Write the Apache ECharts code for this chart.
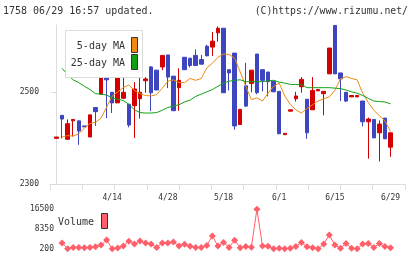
<!DOCTYPE html>
<html>
<head>
<meta charset="utf-8">
<script src="https://cdn.jsdelivr.net/npm/echarts@6/dist/echarts.min.js"></script>
<style>
html, body { margin: 0; padding: 0; background: #fff; }
#chart { width: 420px; height: 259px; }
</style>
</head>
<body>
<div id="chart"></div>
<script>
// trading days, 3/31 .. 6/29
const dates = ['3/31', '4/1', '4/2', '4/3', '4/6', '4/7', '4/8', '4/9', '4/10', '4/13',
  '4/14', '4/15', '4/16', '4/17', '4/20', '4/21', '4/22', '4/23', '4/24', '4/27',
  '4/28', '4/30', '5/1', '5/7', '5/8', '5/11', '5/12', '5/13', '5/14', '5/15',
  '5/18', '5/19', '5/20', '5/21', '5/22', '5/25', '5/26', '5/27', '5/28', '5/29',
  '6/1', '6/2', '6/3', '6/4', '6/5', '6/8', '6/9', '6/10', '6/11', '6/12',
  '6/15', '6/16', '6/17', '6/18', '6/19', '6/22', '6/23', '6/24', '6/25', '6/26', '6/29']
const dateLabels = ['4/14', '4/28', '5/18', '6/1', '6/15', '6/29']

const opens = [2399, 2449, 2397, 2437, 2437, 2426, 2402, 2466, 2495, 2531,
  2499, 2476, 2486, 2473, 2470, 2485, 2524, 2554, 2547, 2554,
  2580, 2534, 2509, 2575, 2573, 2579, 2570, 2599, 2597, 2628,
  2638, 2548, 2584, 2429, 2513, 2518, 2582, 2548, 2543, 2523,
  2501, 2407, 2458, 2485, 2511, 2484, 2461, 2502, 2496, 2539,
  2644, 2541, 2499, 2489, 2489, 2480, 2435, 2440, 2411, 2443, 2380]
const closes = [2402, 2441, 2431, 2440, 2415, 2424, 2450, 2457, 2535, 2526,
  2476, 2538, 2499, 2428, 2506, 2499, 2528, 2498, 2504, 2579,
  2532, 2459, 2525, 2548, 2557, 2557, 2560, 2578, 2610, 2638,
  2498, 2541, 2426, 2462, 2469, 2547, 2498, 2525, 2522, 2500,
  2409, 2410, 2461, 2491, 2527, 2411, 2503, 2505, 2501, 2595,
  2539, 2528, 2480, 2492, 2492, 2435, 2441, 2400, 2430, 2398, 2411]
const lows = [2399, 2399, 2397, 2403, 2385, 2424, 2402, 2426, 2495, 2443,
  2454, 2476, 2484, 2423, 2400, 2442, 2498, 2458, 2504, 2547,
  2508, 2459, 2459, 2548, 2553, 2557, 2560, 2578, 2578, 2609,
  2498, 2503, 2418, 2429, 2467, 2499, 2495, 2501, 2490, 2500,
  2409, 2407, 2458, 2479, 2498, 2398, 2461, 2502, 2449, 2539,
  2539, 2480, 2478, 2489, 2489, 2425, 2355, 2400, 2349, 2398, 2359]
const highs = [2402, 2449, 2440, 2441, 2437, 2426, 2450, 2466, 2557, 2531,
  2499, 2538, 2539, 2473, 2521, 2533, 2532, 2556, 2547, 2579,
  2580, 2534, 2551, 2575, 2573, 2592, 2580, 2602, 2630, 2642,
  2638, 2548, 2584, 2462, 2563, 2547, 2582, 2548, 2543, 2523,
  2501, 2410, 2461, 2500, 2532, 2484, 2532, 2505, 2501, 2595,
  2644, 2541, 2499, 2492, 2492, 2480, 2444, 2440, 2438, 2443, 2411]

const ma5 = [null, 2402, 2405, 2404, 2409, 2421, 2431, 2434, 2443, 2467,
  2491, 2500, 2509, 2515, 2503, 2496, 2492, 2491, 2494, 2508,
  2523, 2526, 2520, 2520, 2529, 2525, 2529, 2552, 2562, 2575,
  2582, 2581, 2573, 2543, 2512, 2483, 2487, 2480, 2497, 2512,
  2519, 2491, 2473, 2461, 2454, 2464, 2472, 2480, 2485, 2489,
  2503, 2528, 2533, 2529, 2526, 2497, 2477, 2460, 2448, 2437, 2414]
const ma25 = [null, 2551, 2537, 2526, 2520, 2512, 2505, 2496, 2495, 2493,
  2487, 2484, 2481, 2473, 2461, 2455, 2454, 2454, 2455, 2460,
  2466, 2469, 2472, 2478, 2482, 2490, 2495, 2500, 2505, 2512,
  2519, 2523, 2525, 2526, 2522, 2522, 2522, 2522, 2524, 2525,
  2521, 2519, 2516, 2516, 2516, 2509, 2509, 2509, 2509, 2509,
  2508, 2507, 2504, 2500, 2497, 2492, 2486, 2480, 2479, 2478, 2474]

const volumes = [null, 2600, 200, 700, 700, 600, 700, 1000, 1700, 3800,
  200, 500, 1300, 3300, 2100, 3400, 2600, 2100, 700, 2600,
  2600, 3000, 1300, 2000, 1200, 700, 700, 1500, 5500, 1300,
  2800, 700, 3700, 600, 1100, 800, 16500, 1300, 1200, 200,
  400, 200, 400, 1100, 2800, 1000, 600, 200, 2100, 5900,
  1700, 400, 2400, 400, 200, 2100, 2400, 700, 2400, 1100, 600]

const priceTicks = [2300, 2500]
const volumeTicks = [200, 8350, 16500]

const xMin = -1.17
const xMax = 62.6
const xTicks = []
for (let i = 0; i <= 11; i++) xTicks.push(xMin + (xMax - xMin) * i / 11)

const labelIdx = dateLabels.map(d => dates.indexOf(d))
const candles = dates.map((d, i) => [i, opens[i], closes[i], lows[i], highs[i]])
const pair = arr => arr.map((v, i) => [i, v])

const mono = '"DejaVu Sans Mono", monospace'
const grey = '#dcdcdc'
const plain = v => String(v)

const chart = echarts.init(document.getElementById('chart'), null, { renderer: 'canvas' })
chart.setOption({
  animation: false,
  backgroundColor: '#fff',
  grid: [
    { left: 50, top: 25, width: 355, height: 159 },
    { left: 50, top: 209.3, width: 355, height: 39.4 }
  ],
  xAxis: [{
    type: 'value',
    gridIndex: 0,
    min: xMin,
    max: xMax,
    splitLine: { show: false },
    axisLine: { lineStyle: { color: grey } },
    axisTick: { customValues: xTicks, length: 6, lineStyle: { color: grey } },
    axisLabel: {
      customValues: labelIdx,
      formatter: v => dates[Math.round(v)] || '',
      margin: 10,
      color: '#333',
      fontFamily: mono,
      fontSize: 8
    }
  }, {
    type: 'value',
    gridIndex: 1,
    min: xMin,
    max: xMax,
    show: false
  }],
  yAxis: [{
    type: 'value',
    gridIndex: 0,
    min: 2300,
    max: 2645,
    splitLine: { show: false },
    axisLine: { show: true, lineStyle: { color: grey } },
    axisTick: { customValues: priceTicks, length: 5, lineStyle: { color: grey } },
    axisLabel: {
      customValues: priceTicks,
      formatter: plain,
      margin: 11,
      color: '#333',
      fontFamily: mono,
      fontSize: 8
    }
  }, {
    type: 'value',
    gridIndex: 1,
    min: 200,
    max: 16500,
    offset: -6,
    splitLine: { show: false },
    axisLine: { show: false },
    axisTick: { show: false },
    axisLabel: {
      customValues: volumeTicks,
      formatter: plain,
      margin: 2,
      color: '#333',
      fontFamily: mono,
      fontSize: 8
    }
  }],
  series: [{
    type: 'candlestick',
    xAxisIndex: 0,
    yAxisIndex: 0,
    data: candles,
    barWidth: 4,
    itemStyle: {
      color: '#d40000',
      color0: '#3d45bf',
      borderColor: '#d40000',
      borderColor0: '#3d45bf',
      borderWidth: 1
    }
  }, {
    type: 'line',
    xAxisIndex: 0,
    yAxisIndex: 0,
    data: pair(ma5),
    showSymbol: false,
    lineStyle: { color: '#f08a10', width: 1 }
  }, {
    type: 'line',
    xAxisIndex: 0,
    yAxisIndex: 0,
    data: pair(ma25),
    showSymbol: false,
    lineStyle: { color: '#14a014', width: 1 }
  }, {
    type: 'line',
    xAxisIndex: 1,
    yAxisIndex: 1,
    data: pair(volumes),
    symbol: 'diamond',
    symbolSize: 7,
    itemStyle: { color: '#ff5f6a' },
    lineStyle: { color: '#ff5f6a', width: 1 }
  }],
  graphic: [
    { type: 'text', left: 3, top: 6, style: { text: '1758 06/29 16:57 updated.', font: '10px ' + mono, fill: '#333' } },
    { type: 'text', right: 12, top: 6, style: { text: '(C)https://www.rizumu.net/', font: '9.8px ' + mono, fill: '#333' } },
    // price legend
    { type: 'rect', shape: { x: 65.5, y: 30.5, width: 77, height: 47 }, style: { fill: '#fff', stroke: grey, lineWidth: 1 }, z: 10 },
    { type: 'text', x: 125, y: 46, style: { text: '5-day MA', font: '10px ' + mono, fill: '#333', align: 'right', verticalAlign: 'middle' }, z: 11 },
    { type: 'text', x: 125, y: 63, style: { text: '25-day MA', font: '10px ' + mono, fill: '#333', align: 'right', verticalAlign: 'middle' }, z: 11 },
    { type: 'rect', shape: { x: 131.5, y: 37.5, width: 6, height: 15 }, style: { fill: '#f08a10', stroke: '#333', lineWidth: 1 }, z: 11 },
    { type: 'rect', shape: { x: 131.5, y: 54.5, width: 6, height: 15 }, style: { fill: '#14a014', stroke: '#333', lineWidth: 1 }, z: 11 },
    // volume legend
    { type: 'text', x: 58, y: 222, style: { text: 'Volume', font: '10px ' + mono, fill: '#333', verticalAlign: 'middle' }, z: 11 },
    { type: 'rect', shape: { x: 101.5, y: 213.5, width: 6, height: 15 }, style: { fill: '#ff5f6a', stroke: '#333', lineWidth: 1 }, z: 11 }
  ]
})
</script>
</body>
</html>
